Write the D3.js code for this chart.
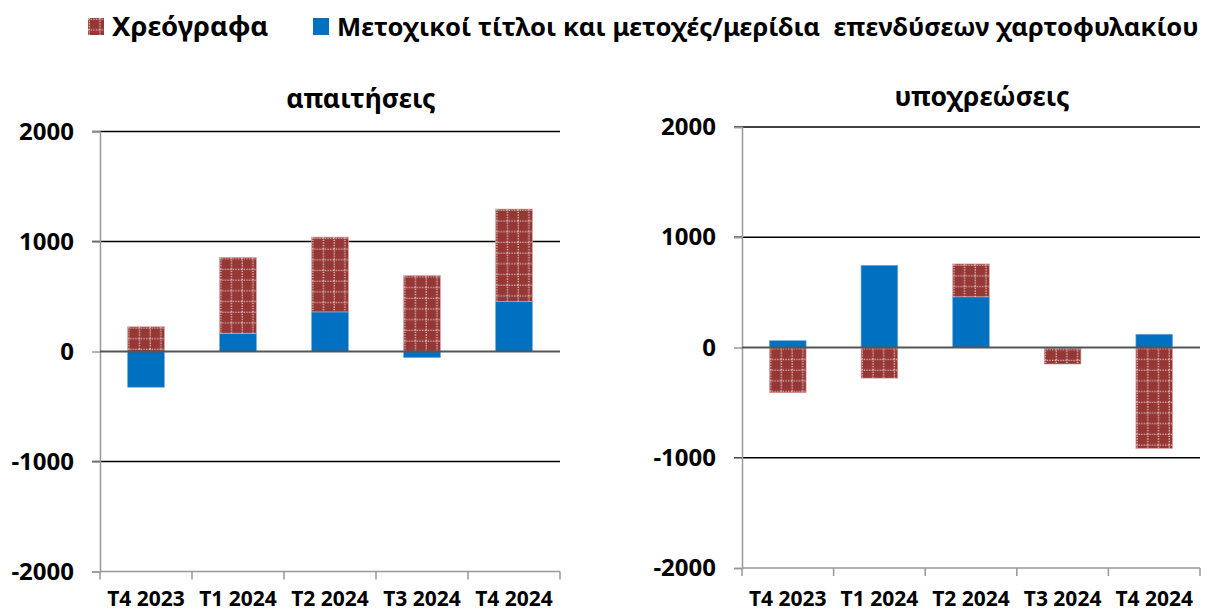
<!DOCTYPE html>
<html>
<head>
<meta charset="utf-8">
<script src="https://cdn.jsdelivr.net/npm/d3@7/dist/d3.min.js"></script>
<style>
  html, body { margin: 0; padding: 0; background: #fff; }
  svg { display: block; }
  text { font-family: "Noto Sans", "Open Sans", sans-serif; font-weight: 700; fill: #000; white-space: pre; }
</style>
</head>
<body>
<svg id="chart" width="1217" height="612"></svg>
<script>
// Quarters shown on both panels
const quarters = ["T4 2023", "T1 2024", "T2 2024", "T3 2024", "T4 2024"];

// Assets (απαιτήσεις), million euro
const assetsShares = [-325, 165, 360, -55, 455];
const assetsBonds  = [225, 690, 680, 690, 840];

// Liabilities (υποχρεώσεις), million euro
const liabShares = [62, 745, 460, -8, 120];
const liabBonds  = [-410, -278, 298, -142, -915];

const yTicks = [-2000, -1000, 0, 1000, 2000];
const seriesNames = ["Χρεόγραφα", "Μετοχικοί τίτλοι και μετοχές/μερίδια  επενδύσεων χαρτοφυλακίου"];
const panelTitles = ["απαιτήσεις", "υποχρεώσεις"];

const BOND = "#953735";
const SHARE = "#0070C0";

const svg = d3.select("#chart");
const defs = svg.append("defs");
let patId = 0;

// Dark red fill crossed by a dotted white grid
function gridPattern(x0, y0) {
  const id = "grid" + (patId++);
  const s = 10.7;
  const p = defs.append("pattern")
    .attr("id", id)
    .attr("patternUnits", "userSpaceOnUse")
    .attr("x", x0).attr("y", y0)
    .attr("width", s).attr("height", s);
  p.append("rect").attr("width", s).attr("height", s).attr("fill", BOND);
  p.append("line").attr("x1", 1.2).attr("x2", 1.2).attr("y1", 0).attr("y2", s)
    .attr("stroke", "#fff").attr("stroke-width", 1.1).attr("stroke-dasharray", "1.3,1.3").attr("opacity", 0.85);
  p.append("line").attr("y1", 1.2).attr("y2", 1.2).attr("x1", 0).attr("x2", s)
    .attr("stroke", "#fff").attr("stroke-width", 1.1).attr("stroke-dasharray", "1.3,1.3").attr("opacity", 0.85);
  return "url(#" + id + ")";
}

// Legend
const legend = svg.append("g");
legend.append("rect").attr("x", 88).attr("y", 18).attr("width", 16).attr("height", 17)
  .attr("fill", gridPattern(88, 18));
legend.append("text").attr("x", 112).attr("y", 36).attr("font-size", 27.5).text(seriesNames[0]);
legend.append("rect").attr("x", 313).attr("y", 18).attr("width", 16).attr("height", 17)
  .attr("fill", SHARE);
legend.append("text").attr("x", 337).attr("y", 36).attr("font-size", 25.6)
  .text(seriesNames[1]);

function panel(cfg) {
  const { x0, x1, yTop, yBot, labelY, title, titleX, titleY, shares, bonds } = cfg;
  const g = svg.append("g");

  const x = d3.scaleBand().domain(quarters).range([x0, x1]).paddingInner(0.6).paddingOuter(0.3);
  const xEdge = d3.scaleLinear().domain([0, quarters.length]).range([x0, x1]);
  const y = d3.scaleLinear().domain([-2000, 2000]).range([yBot, yTop]);

  // Gridlines
  g.append("g").selectAll("line").data(yTicks.filter(v => v !== -2000 && v !== 0)).join("line")
    .attr("x1", x0 - 8).attr("x2", x1)
    .attr("y1", d => y(d)).attr("y2", d => y(d))
    .attr("stroke", "#000").attr("stroke-width", 1.3);

  // Y axis
  const yAxis = g.append("g").attr("transform", `translate(${x0},0)`)
    .call(d3.axisLeft(y).tickValues(yTicks).tickSize(8).tickPadding(18).tickFormat(d => String(d)));
  yAxis.select(".domain").attr("stroke", "#999").attr("stroke-width", 1.5);
  yAxis.selectAll(".tick line").attr("stroke", "#999").attr("stroke-width", 1.5);
  yAxis.selectAll("text").attr("font-size", 24).attr("font-family", null).attr("fill", "#000");

  // X axis along the bottom
  const xAxisG = g.append("g").attr("transform", `translate(0,${yBot})`);
  xAxisG.append("line").attr("x1", x0).attr("x2", x1).attr("stroke", "#999").attr("stroke-width", 1.5);
  xAxisG.selectAll(".edge").data(d3.range(quarters.length + 1)).join("line")
    .attr("class", "edge")
    .attr("x1", d => xEdge(d)).attr("x2", d => xEdge(d))
    .attr("y1", 0).attr("y2", 8)
    .attr("stroke", "#999").attr("stroke-width", 1.5);
  g.append("g").selectAll("text").data(quarters).join("text")
    .attr("x", d => x(d) + x.bandwidth() / 2)
    .attr("y", labelY)
    .attr("text-anchor", "middle")
    .attr("font-size", 21)
    .text(d => d);

  // Stacked bars, positives and negatives piled separately
  const rows = quarters.map((q, i) => ({ q, shares: shares[i], bonds: bonds[i] }));
  const stack = d3.stack().keys(["shares", "bonds"]).offset(d3.stackOffsetDiverging);
  const layers = stack(rows);

  layers.forEach(layer => {
    const isBond = layer.key === "bonds";
    g.append("g").selectAll("rect").data(layer).join("rect")
      .attr("x", d => x(d.data.q))
      .attr("width", x.bandwidth())
      .attr("y", d => y(Math.max(d[0], d[1])))
      .attr("height", d => Math.abs(y(d[0]) - y(d[1])))
      .attr("fill", d => isBond ? gridPattern(x(d.data.q), y(Math.max(d[0], d[1]))) : SHARE)
      .attr("stroke", isBond ? "#d9a3a2" : "#6fa8dc")
      .attr("stroke-width", 0.8)
      .attr("stroke-opacity", 0.8);
  });

  // Zero line on top of the bars
  g.append("line").attr("x1", x0).attr("x2", x1)
    .attr("y1", y(0)).attr("y2", y(0))
    .attr("stroke", "#555").attr("stroke-width", 2);

  g.append("text").attr("x", titleX).attr("y", titleY).attr("text-anchor", "middle")
    .attr("font-size", 26.5).text(title);
}

panel({ x0: 100, x1: 560, yTop: 131.5, yBot: 571.5, labelY: 605.5, title: panelTitles[0], titleX: 361, titleY: 108,
        shares: assetsShares, bonds: assetsBonds });
panel({ x0: 742, x1: 1200, yTop: 127, yBot: 568, labelY: 605.5, title: panelTitles[1], titleX: 982, titleY: 106,
        shares: liabShares, bonds: liabBonds });
</script>
</body>
</html>
